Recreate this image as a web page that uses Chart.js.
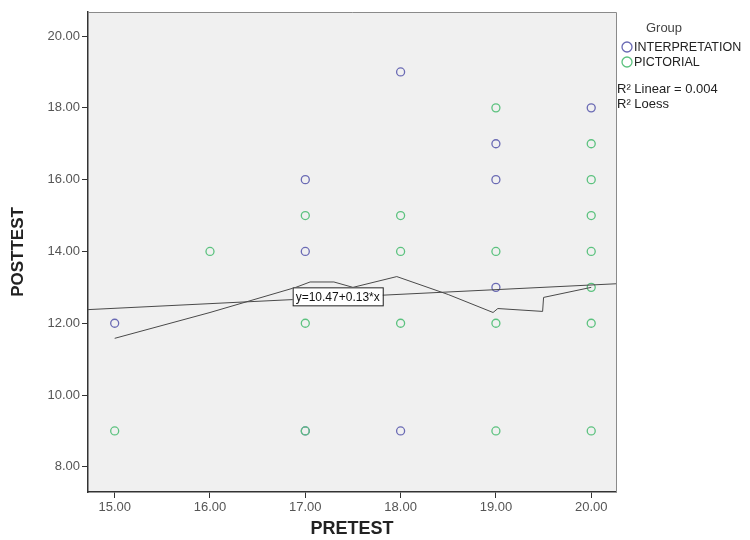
<!DOCTYPE html>
<html>
<head>
<meta charset="utf-8">
<script src="https://cdn.jsdelivr.net/npm/chart.js@4/dist/chart.umd.min.js"></script>
<style>
  body { margin: 0; background: #fff; }
  canvas { display: block; }
</style>
</head>
<body>
<canvas id="grafico" width="750" height="540"></canvas>
<script>
// --- data ---
const interpX = [15, 17, 17, 17, 18, 18, 19, 19, 19, 20];
const interpY = [12, 16, 14, 9, 19, 9, 17, 16, 13, 18];
const pictX = [15, 16, 17, 17, 17, 18, 18, 18, 19, 19, 19, 19, 20, 20, 20, 20, 20, 20, 20];
const pictY = [9, 14, 15, 12, 9, 15, 14, 12, 18, 14, 12, 9, 17, 16, 15, 14, 13, 12, 9];

// fit line (ends at plot edges) and loess curve
const linearX = [14.72, 20.26];
const linearY = [12.38, 13.1];
const loessX = [15, 16, 16.9, 17.05, 17.3, 17.5, 17.96, 18.5, 18.97, 19.02, 19.49, 19.5, 20];
const loessY = [11.58, 12.3, 13.0, 13.15, 13.15, 13.0, 13.3, 12.8, 12.3, 12.41, 12.33, 12.72, 13.0];

const xTicks = [15, 16, 17, 18, 19, 20];
const yTicks = [8, 10, 12, 14, 16, 18, 20];

const equation = "y=10.47+0.13*x";
const equationAt = [17.34, 12.75];

const blue = "#6a6ab4";
const green = "#5cc27f";
const fontFam = "'Liberation Sans', Arial, sans-serif";

function pairs(xs, ys) {
  return xs.map((x, i) => ({ x: x, y: ys[i] }));
}

// plot background, frame, equation label and legend
const frame = {
  id: "frame",
  beforeDraw(chart) {
    const { ctx, chartArea: a } = chart;
    ctx.save();
    ctx.fillStyle = "#f0f0f0";
    ctx.fillRect(a.left, a.top, a.right - a.left, a.bottom - a.top);
    ctx.restore();
  },
  afterDraw(chart) {
    const { ctx, chartArea: a, scales } = chart;
    ctx.save();
    ctx.strokeStyle = "#8a8a8a";
    ctx.lineWidth = 1;
    ctx.beginPath();
    ctx.moveTo(a.left, a.top + 0.5);
    ctx.lineTo(a.right + 0.5, a.top + 0.5);
    ctx.lineTo(a.right + 0.5, a.bottom);
    ctx.stroke();

    // equation label
    const px = scales.x.getPixelForValue(equationAt[0]);
    const py = scales.y.getPixelForValue(equationAt[1]);
    ctx.font = "12px " + fontFam;
    const w = ctx.measureText(equation).width + 6;
    ctx.fillStyle = "#fff";
    ctx.fillRect(px - w / 2, py - 9, w, 18);
    ctx.strokeStyle = "#222";
    ctx.strokeRect(px - w / 2 + 0.5, py - 9 + 0.5, w, 18);
    ctx.fillStyle = "#111";
    ctx.textAlign = "center";
    ctx.textBaseline = "middle";
    ctx.fillText(equation, px, py + 1);

    // legend
    ctx.fillStyle = "#444";
    ctx.font = "13px " + fontFam;
    ctx.fillText("Group", 664, 28);
    ctx.textAlign = "left";
    ctx.font = "12.5px " + fontFam;
    const items = [["INTERPRETATION", blue, 47], ["PICTORIAL", green, 62]];
    items.forEach(([t, c, y]) => {
      ctx.strokeStyle = c;
      ctx.lineWidth = 1.3;
      ctx.beginPath();
      ctx.arc(627, y, 5, 0, Math.PI * 2);
      ctx.stroke();
      ctx.fillStyle = "#222";
      ctx.fillText(t, 634, y + 1);
    });
    ctx.font = "13px " + fontFam;
    ctx.fillText("R\u00B2 Linear = 0.004", 617, 89);
    ctx.fillText("R\u00B2 Loess", 617, 104);
    ctx.restore();
  },
};

const ctx = document.getElementById("grafico").getContext("2d");

new Chart(ctx, {
  type: "scatter",
  data: {
    datasets: [
      {
        label: "Linear",
        type: "line",
        data: pairs(linearX, linearY),
        borderColor: "#4a4a4a",
        borderWidth: 1,
        pointRadius: 0,
        fill: false,
      },
      {
        label: "Loess",
        type: "line",
        data: pairs(loessX, loessY),
        borderColor: "#4a4a4a",
        borderWidth: 1,
        pointRadius: 0,
        fill: false,
        tension: 0,
      },
      {
        label: "PICTORIAL",
        data: pairs(pictX, pictY),
        borderColor: green,
        backgroundColor: "rgba(0,0,0,0)",
        borderWidth: 1.3,
        pointRadius: 4,
      },
      {
        label: "INTERPRETATION",
        data: pairs(interpX, interpY),
        borderColor: blue,
        backgroundColor: "rgba(0,0,0,0)",
        borderWidth: 1.3,
        pointRadius: 4,
      },
    ],
  },
  options: {
    responsive: false,
    animation: false,
    layout: { padding: { left: 0, right: 134, top: 12, bottom: 0 } },
    plugins: {
      legend: { display: false },
      tooltip: { enabled: false },
    },
    scales: {
      x: {
        type: "linear",
        min: 14.72,
        max: 20.26,
        afterBuildTicks: (s) => { s.ticks = xTicks.map((v) => ({ value: v })); },
        afterFit: (s) => { s.height = 48; },
        border: { color: "#333", width: 1.5 },
        grid: { drawOnChartArea: false, drawTicks: true, tickLength: 6, color: "#333" },
        ticks: {
          padding: 2,
          color: "#555",
          font: { family: fontFam, size: 13 },
          callback: (v) => v.toFixed(2),
        },
        title: {
          display: true,
          text: "PRETEST",
          color: "#222",
          font: { family: fontFam, size: 18, weight: "bold" },
          padding: { top: 0, bottom: 0 },
        },
      },
      y: {
        type: "linear",
        min: 7.3,
        max: 20.67,
        afterBuildTicks: (s) => { s.ticks = yTicks.map((v) => ({ value: v })); },
        afterFit: (s) => { s.width = 88; },
        border: { color: "#333", width: 1.5 },
        grid: { drawOnChartArea: false, drawTicks: true, tickLength: 6, color: "#333" },
        ticks: {
          padding: 2,
          color: "#555",
          font: { family: fontFam, size: 13 },
          callback: (v) => v.toFixed(2),
        },
        title: {
          display: true,
          text: "POSTTEST",
          color: "#222",
          font: { family: fontFam, size: 17, weight: "bold" },
          padding: { top: 8, bottom: 0 },
        },
      },
    },
  },
  plugins: [frame],
});
</script>
</body>
</html>
